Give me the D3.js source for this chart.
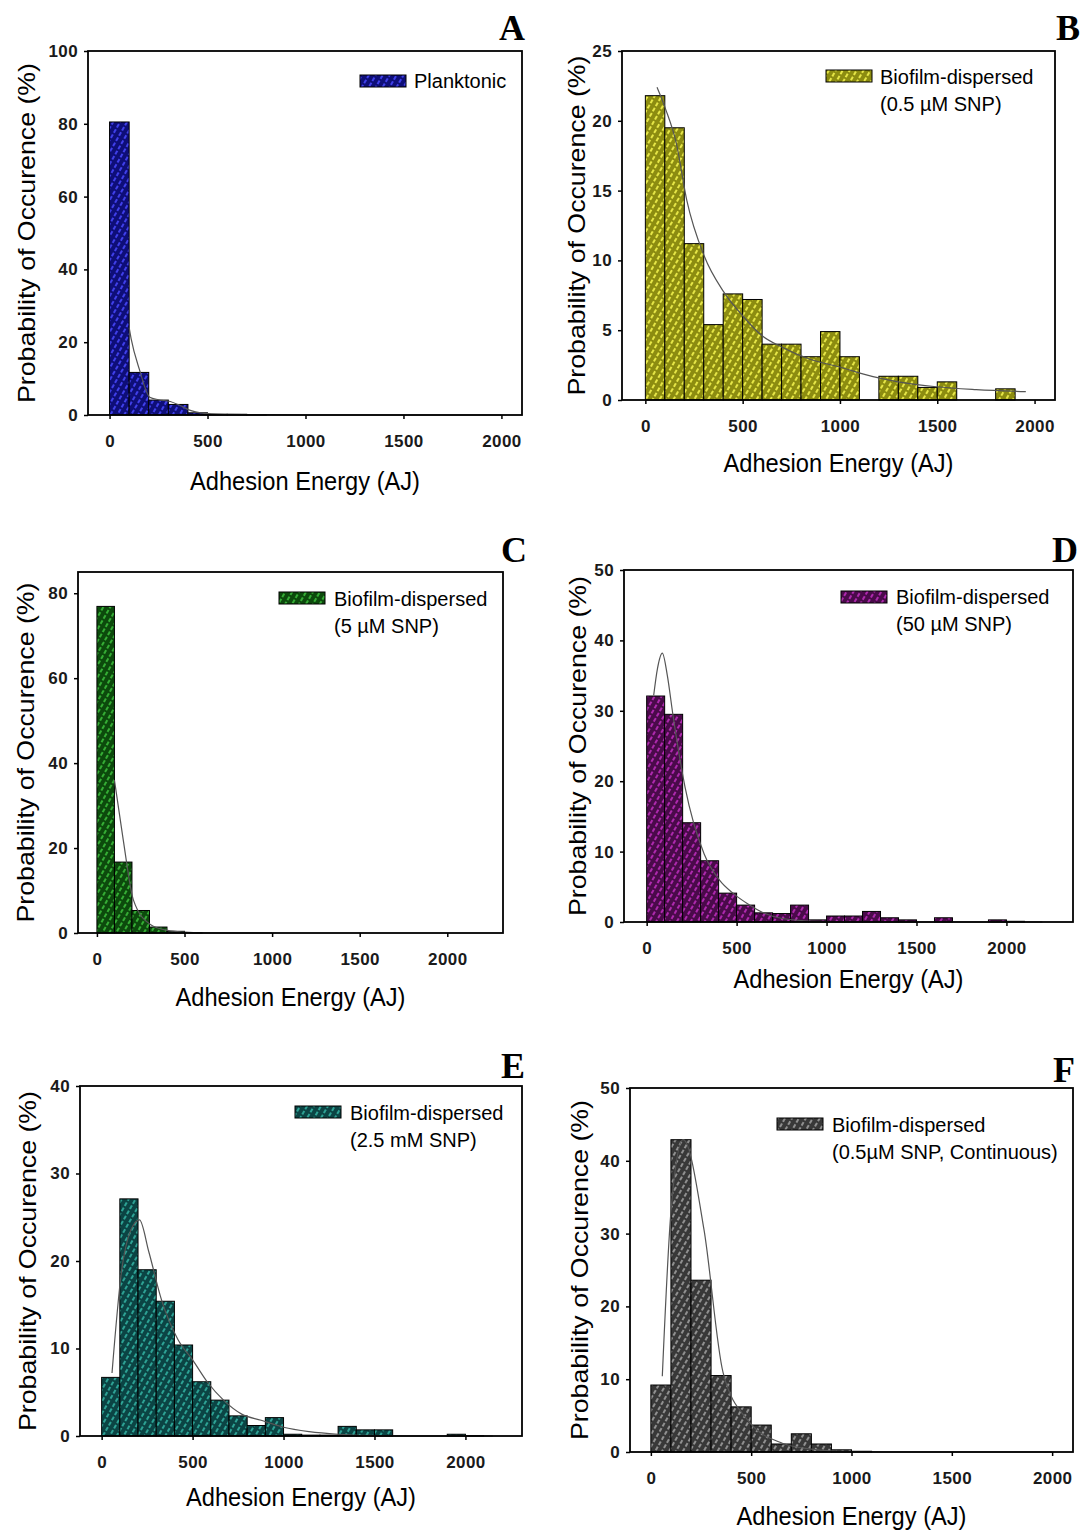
<!DOCTYPE html>
<html>
<head>
<meta charset="utf-8">
<script src="https://cdnjs.cloudflare.com/ajax/libs/d3/7.8.5/d3.min.js"></script>
<style>
body { margin: 0; background: #fff; }
svg { display: block; }
</style>
</head>
<body>
<div id="chart"></div>
<script>
const WIDTH = 1086, HEIGHT = 1533;

// left edge of every 100 AJ bin
const binStart = [0, 100, 200, 300, 400, 500, 600, 700, 800, 900, 1000,
                  1100, 1200, 1300, 1400, 1500, 1600, 1700, 1800, 1900, 2000, 2100];
const BIN = 100;

const xTicks = [0, 500, 1000, 1500, 2000];

// probability of occurence (%) per bin
const planktonic = [80.5, 11.7, 4.1, 2.9, 0.6, 0.2, 0.2, 0.1];
const snp05 = [21.8, 19.5, 11.2, 5.4, 7.6, 7.2, 4.0, 4.0, 3.1, 4.9, 3.1, 0, 1.7, 1.7, 0.9, 1.3, 0, 0, 0.8];
const snp5 = [76.9, 16.7, 5.3, 1.4, 0.4, 0.1];
const snp50 = [32.1, 29.5, 14.1, 8.7, 4.1, 2.4, 1.3, 1.2, 2.4, 0.3, 0.85, 0.85, 1.5, 0.6, 0.3, 0, 0.6, 0, 0, 0.3, 0.1];
const snp2500 = [6.7, 27.1, 19.0, 15.4, 10.4, 6.2, 4.1, 2.3, 1.2, 2.1, 0.2, 0.1, 0.1, 1.1, 0.7, 0.7, 0, 0, 0, 0.2, 0.05];
const snpCont = [9.2, 42.9, 23.6, 10.5, 6.2, 3.7, 1.1, 2.5, 1.1, 0.3, 0.1];

// fitted curves [energy, probability]
const fitA = [[100, 24], [110, 21], [153, 12.4], [205, 4.9], [250, 4.2], [310, 3.7], [360, 2.6], [416, 1.2], [521, 0.3], [700, 0.1], [1000, 0], [2000, 0]];
const fitB = [[60, 22.4], [105, 20.8], [159, 18.4], [213, 14.3], [303, 10.3], [400, 7.8], [502, 6.0], [600, 4.6], [700, 3.8], [850, 2.9], [989, 2.4], [1170, 1.67], [1300, 1.3], [1495, 0.95], [1700, 0.75], [1955, 0.6]];
const fitC = [[100, 36], [150, 22], [208, 7.8], [305, 2.0], [403, 0.6], [500, 0.2], [650, 0], [1000, 0]];
const fitD = [[39, 32.2], [60, 36], [87, 38.2], [115, 35], [145, 29.6], [213, 19.2], [319, 9.7], [406, 5.9], [484, 4.0], [561, 2.6], [658, 1.2], [754, 0.5], [948, 0.1], [1200, 0], [2200, 0]];
const fitE = [[57, 7.2], [108, 18.6], [160, 23.5], [208, 24.7], [260, 21], [330, 15.5], [420, 11], [500, 8.7], [580, 6.2], [670, 4.1], [770, 2.5], [877, 1.8], [1000, 1.0], [1141, 0.5], [1300, 0.2], [1500, 0.05], [1700, 0], [2150, 0]];
const fitF = [[57, 10.4], [101, 33.3], [161, 42.9], [265, 30.5], [360, 10.9], [482, 4.4], [655, 1.2], [800, 0.4], [1000, 0.05], [1200, 0], [2000, 0]];

const yTicksA = [0, 20, 40, 60, 80, 100];
const yTicksB = [0, 5, 10, 15, 20, 25];
const yTicksC = [0, 20, 40, 60, 80];
const yTicksD = [0, 10, 20, 30, 40, 50];
const yTicksE = [0, 10, 20, 30, 40];
const yTicksF = [0, 10, 20, 30, 40, 50];

const legendA = ["Planktonic"];
const legendB = ["Biofilm-dispersed", "(0.5 \u00b5M SNP)"];
const legendC = ["Biofilm-dispersed", "(5 \u00b5M SNP)"];
const legendD = ["Biofilm-dispersed", "(50 \u00b5M SNP)"];
const legendE = ["Biofilm-dispersed", "(2.5 mM SNP)"];
const legendF = ["Biofilm-dispersed", "(0.5\u00b5M SNP, Continuous)"];

const X_TITLE = "Adhesion Energy (AJ)";
const Y_TITLE = "Probability of Occurence (%)";

// layout of each panel: frame box [left, top, right, bottom]
let panels = [
    {id: "A", bars: planktonic, fit: fitA, yTicks: yTicksA, legend: legendA, base: "#0e0e78", line: "#4848ff",
     box: [88, 51, 522, 415], xDom: [-110, 2105], yMax: 100, yTitleX: 35, xTitleDy: 75, leg: [360, 75, 414, 88], letter: [525, 40]},
    {id: "B", bars: snp05, fit: fitB, yTicks: yTicksB, legend: legendB, base: "#8c8c10", line: "#f6f650",
     box: [622, 51, 1055, 400], xDom: [-120, 2105], yMax: 25, yTitleX: 585, xTitleDy: 72, leg: [826, 70, 880, 84], letter: [1080, 40]},
    {id: "C", bars: snp5, fit: fitC, yTicks: yTicksC, legend: legendC, base: "#0c4a0c", line: "#3cbf3c",
     box: [78, 572, 503, 933], xDom: [-108, 2318], yMax: 85, yTitleX: 34, xTitleDy: 73, leg: [279, 592, 334, 606], letter: [527, 562]},
    {id: "D", bars: snp50, fit: fitD, yTicks: yTicksD, legend: legendD, base: "#4a0a4a", line: "#c02ec0",
     box: [624, 570, 1073, 922], xDom: [-126, 2370], yMax: 50, yTitleX: 586, xTitleDy: 66, leg: [841, 591, 896, 604], letter: [1078, 562]},
    {id: "E", bars: snp2500, fit: fitE, yTicks: yTicksE, legend: legendE, base: "#0b4444", line: "#33b3a3",
     box: [80, 1086, 522, 1436], xDom: [-119, 2311], yMax: 40, yTitleX: 36, xTitleDy: 70, leg: [295, 1106, 350, 1120], letter: [525, 1078]},
    {id: "F", bars: snpCont, fit: fitF, yTicks: yTicksF, legend: legendF, base: "#383838", line: "#a0a0a0",
     box: [630, 1088, 1073, 1452], xDom: [-104, 2104], yMax: 50, yTitleX: 588, xTitleDy: 73, leg: [777, 1118, 832, 1132], letter: [1075, 1082]}
];

let svg = d3.select("#chart")
    .append("svg")
    .attr("width", WIDTH)
    .attr("height", HEIGHT)
    .style("font-family", "'Liberation Sans', Arial, sans-serif");

let defs = svg.append("defs");

panels.forEach(function(p) {
    // hatch fill like the sigmaplot bars
    let pat = defs.append("pattern")
        .attr("id", "hatch" + p.id)
        .attr("patternUnits", "userSpaceOnUse")
        .attr("width", 6)
        .attr("height", 6)
        .attr("patternTransform", "rotate(30)");
    pat.append("rect").attr("width", 6).attr("height", 6).attr("fill", p.base);
    pat.append("line")
        .attr("x1", 3).attr("y1", 0).attr("x2", 3).attr("y2", 6)
        .attr("stroke", p.line)
        .attr("stroke-width", 1.7)
        .attr("stroke-dasharray", "4 2");

    let [L, T, R, B] = p.box;
    let x = d3.scaleLinear().domain(p.xDom).range([L, R]);
    let y = d3.scaleLinear().domain([0, p.yMax]).range([B, T]);

    let g = svg.append("g");

    // bars
    let data = p.bars.map(function(v, i) { return {x0: binStart[i], v: v}; }).filter(function(d) { return d.v > 0; });
    g.selectAll("rect.bar")
        .data(data)
        .enter()
        .append("rect")
        .attr("class", "bar")
        .attr("x", function(d) { return x(d.x0); })
        .attr("y", function(d) { return y(d.v); })
        .attr("width", function(d) { return x(d.x0 + BIN) - x(d.x0); })
        .attr("height", function(d) { return y(0) - y(d.v); })
        .attr("fill", "url(#hatch" + p.id + ")")
        .attr("stroke", "#000")
        .attr("stroke-width", 1);

    // fitted curve
    let line = d3.line()
        .x(function(d) { return x(d[0]); })
        .y(function(d) { return y(d[1]); })
        .curve(d3.curveMonotoneX);
    g.append("path")
        .datum(p.fit)
        .attr("d", line)
        .attr("fill", "none")
        .attr("stroke", "#555")
        .attr("stroke-width", 1.2);

    // axes
    let xAxis = g.append("g")
        .attr("transform", `translate(0, ${B})`)
        .call(d3.axisBottom(x).tickValues(xTicks).tickSize(4).tickPadding(16).tickFormat(d3.format("d")));
    let yAxis = g.append("g")
        .attr("transform", `translate(${L}, 0)`)
        .call(d3.axisLeft(y).tickValues(p.yTicks).tickSize(4).tickPadding(6).tickFormat(d3.format("d")));
    [xAxis, yAxis].forEach(function(a) {
        a.select(".domain").remove();
        a.selectAll("line").attr("stroke", "#000").attr("stroke-width", 1.5);
        a.selectAll("text")
            .attr("fill", "#1a1a1a")
            .style("font-family", "'Liberation Sans', Arial, sans-serif")
            .style("font-size", "17px")
            .style("letter-spacing", "0.4px")
            .style("font-weight", "bold");
    });

    // frame
    g.append("rect")
        .attr("x", L).attr("y", T)
        .attr("width", R - L).attr("height", B - T)
        .attr("fill", "none")
        .attr("stroke", "#000")
        .attr("stroke-width", 1.8);

    // axis titles
    g.append("text")
        .attr("x", (L + R) / 2)
        .attr("y", B + p.xTitleDy)
        .attr("text-anchor", "middle")
        .attr("textLength", 230)
        .attr("lengthAdjust", "spacingAndGlyphs")
        .style("font-size", "26px")
        .text(X_TITLE);

    g.append("text")
        .attr("transform", `translate(${p.yTitleX}, ${(T + B) / 2}) rotate(-90)`)
        .attr("text-anchor", "middle")
        .attr("textLength", 340)
        .attr("lengthAdjust", "spacingAndGlyphs")
        .style("font-size", "24px")
        .text(Y_TITLE);

    // legend
    let [sx, sy, tx, ty] = p.leg;
    g.append("rect")
        .attr("x", sx).attr("y", sy)
        .attr("width", 46).attr("height", 12)
        .attr("fill", "url(#hatch" + p.id + ")")
        .attr("stroke", "#000")
        .attr("stroke-width", 1);
    g.selectAll("text.leg")
        .data(p.legend)
        .enter()
        .append("text")
        .attr("class", "leg")
        .attr("x", tx)
        .attr("y", function(d, i) { return ty + i * 27; })
        .style("font-size", "20px")
        .text(function(d) { return d; });

    // panel letter
    g.append("text")
        .attr("x", p.letter[0])
        .attr("y", p.letter[1])
        .attr("text-anchor", "end")
        .style("font-family", "'Liberation Serif', 'Times New Roman', serif")
        .style("font-weight", "bold")
        .style("font-size", "36px")
        .text(p.id);
});
</script>
</body>
</html>
